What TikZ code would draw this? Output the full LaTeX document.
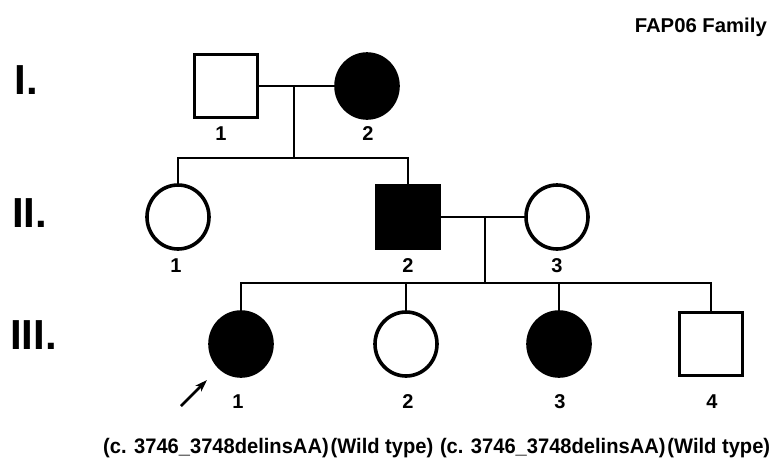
\documentclass[tikz,border=0pt]{standalone}
\usepackage{fontspec}
\setmainfont{Liberation Sans}
\usetikzlibrary{shapes.geometric,arrows.meta}

\tikzset{
  person/.style={draw=black, line width=3.6pt, inner sep=0pt, fill=white},
  male/.style={person, rectangle, minimum size=63pt},
  female/.style={person, ellipse, minimum width=62pt, minimum height=64pt},
  affected/.style={fill=black},
  rel/.style={line width=1.9pt},
  idlabel/.style={font=\bfseries\fontsize{20}{20}\selectfont, anchor=base, inner sep=0pt},
  gen/.style={font=\bfseries\fontsize{42}{42}\selectfont, anchor=base west, inner sep=0pt},
  proband/.style={line width=2.6pt, -{Stealth[length=12pt,width=8pt,inset=3pt]}}
}

\begin{document}
\begin{tikzpicture}[x=1pt, y=-1pt]
\useasboundingbox[fill=white] (0,0) rectangle (775,459);

% title
\node[anchor=base east, inner sep=0pt, font=\bfseries\fontsize{20}{20}\selectfont]
  (title) at (767,32) {\resizebox{132pt}{\height}{FAP06 Family}};

% generation numerals
\node[gen] (g1) at (14.5,94) {I.};
\node[gen] (g2) at (12,227)  {II.};
\node[gen] (g3) at (10,349)  {III.};

% generation I
\node[male] (i1) at (226,86) {};
\node[female, affected] (i2) at (367,86) {};
\node[idlabel] (l-i1) at (221,140) {1};
\node[idlabel] (l-i2) at (368,140) {2};

% generation II
\node[female] (ii1) at (178,217) {};
\node[male, affected] (ii2) at (408,217) {};
\node[female] (ii3) at (557,217) {};
\node[idlabel] (l-ii1) at (176,272) {1};
\node[idlabel] (l-ii2) at (408,272) {2};
\node[idlabel] (l-ii3) at (557,272) {3};

% generation III
\node[female, affected] (iii1) at (241,344) {};
\node[female] (iii2) at (406,344) {};
\node[female, affected] (iii3) at (559,344) {};
\node[male] (iii4) at (711,344) {};
\node[idlabel] (l-iii1) at (238,408) {1};
\node[idlabel] (l-iii2) at (408,408) {2};
\node[idlabel] (l-iii3) at (560,408) {3};
\node[idlabel] (l-iii4) at (712,408) {4};

% marriages and descent lines
\coordinate (m1) at (294,86);
\coordinate (s1) at (294,158);
\draw[rel] (i1.east) -- (i2.west);
\draw[rel] (m1) -- (s1);
\draw[rel] (ii1.north) |- (s1) -| (ii2.north);

\coordinate (m2) at (485,217);
\coordinate (s2) at (485,283);
\draw[rel] (ii2.east) -- (ii3.west);
\draw[rel] (m2) -- (s2);
\draw[rel] (iii1.north) |- (s2) -| (iii4.north);
\draw[rel] (iii2.north) -- (iii2.north |- s2);
\draw[rel] (iii3.north) -- (iii3.north |- s2);

% proband arrow
\coordinate (pa) at (181,406);
\coordinate (pb) at (207,380);
\draw[proband] (pa) -- (pb);

% genotypes
\node[anchor=base west, inner sep=0pt, font=\bfseries\fontsize{21}{21}\selectfont]
  (geno) at (103,453)
  {\resizebox{667pt}{\height}{(c. 3746\_3748delinsAA)\hspace{2pt}(Wild type)\hspace{7pt}(c. 3746\_3748delinsAA)\hspace{2pt}(Wild type)}};
\end{tikzpicture}
\end{document}
